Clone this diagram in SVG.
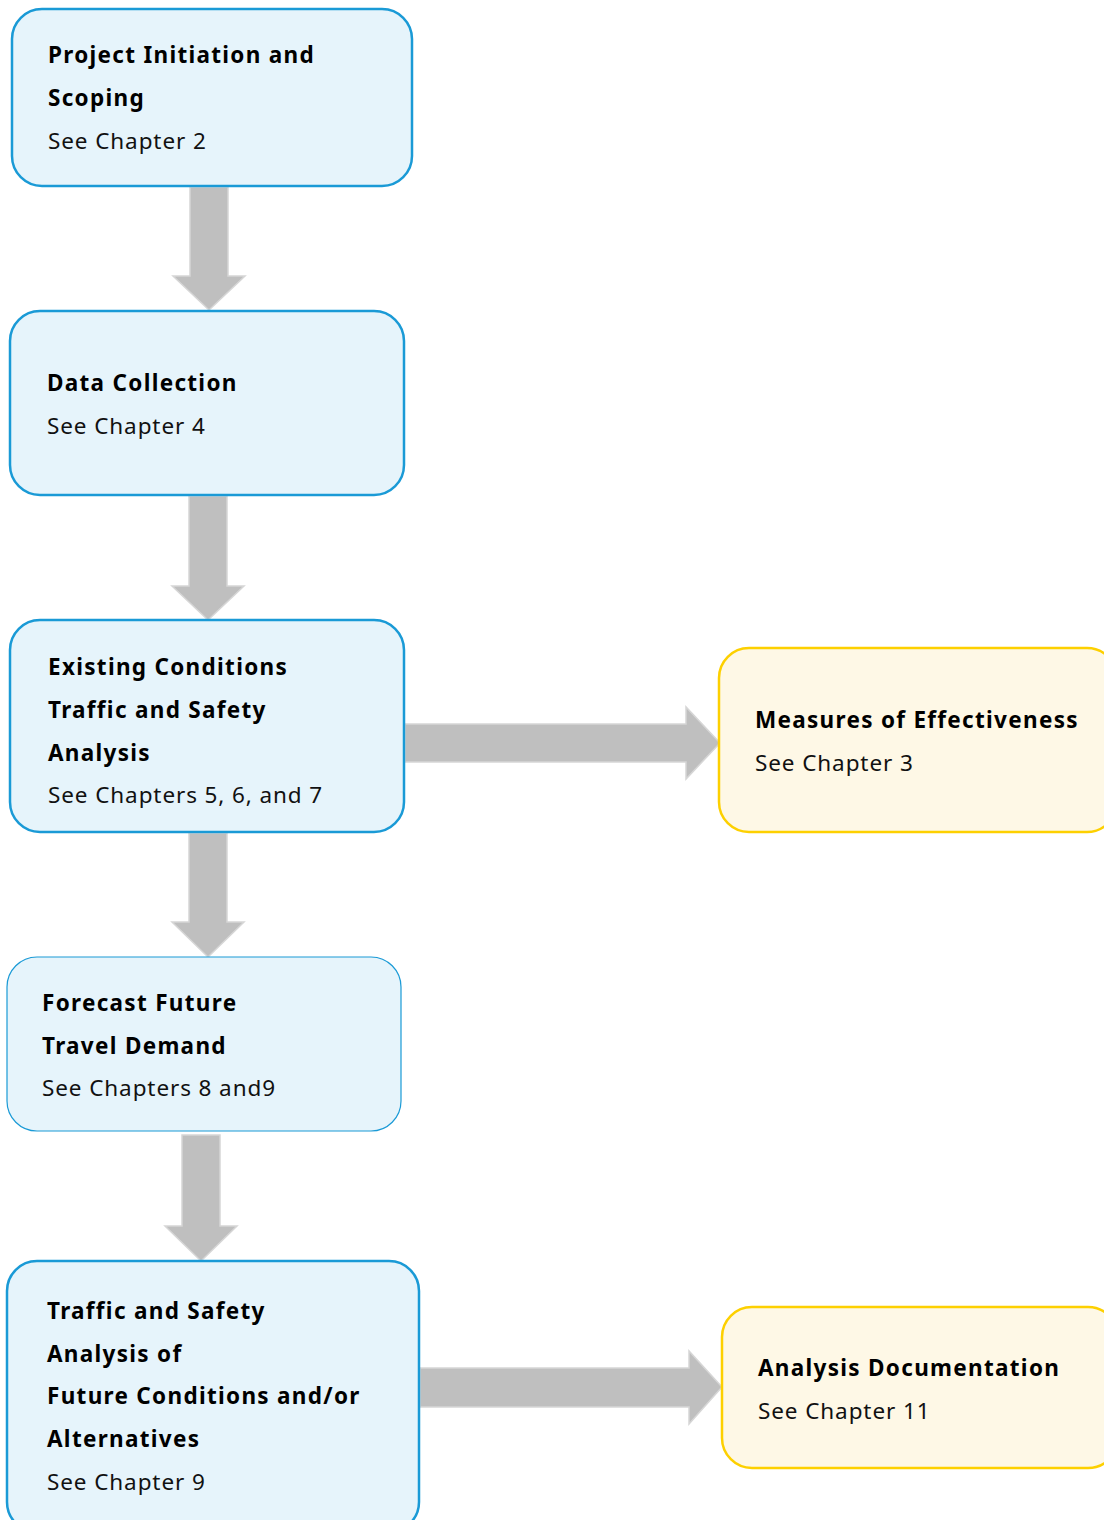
<svg xmlns="http://www.w3.org/2000/svg" width="1104" height="1520" viewBox="0 0 1104 1520">
<style>
.blue{fill:#e6f4fb;stroke:#1a9ad6;stroke-width:2.5}
.blue-thin{fill:#e6f4fb;stroke:#1a9ad6;stroke-width:1.2}
.yellow{fill:#fef8e6;stroke:#fdd000;stroke-width:2.5}
.arrow{fill:#bfbfbf;stroke:#d6d6d6;stroke-width:1.5}
.t{font-family:"Noto Sans","Open Sans",sans-serif;font-size:22.5px;font-weight:700;fill:#000;letter-spacing:1.3px}
.s{font-family:"Noto Sans","Open Sans",sans-serif;font-size:22.5px;font-weight:400;fill:#111;letter-spacing:0.9px}
</style>
<rect width="1104" height="1520" fill="#fff"/>
<g id="connectors">
<path class="arrow" d="M190,187 H228 V276 H245 L209,310 L173,276 H190 Z"/>
<path class="arrow" d="M189,496 H227 V586 H244 L208,620 L172,586 H189 Z"/>
<path class="arrow" d="M189,833 H227 V922 H244 L208,957 L172,922 H189 Z"/>
<path class="arrow" d="M182,1135 H220 V1226 H237 L201,1261 L165,1226 H182 Z"/>
<path class="arrow" d="M405,724 H686 V707 L720,743 L686,779 V762 H405 Z"/>
<path class="arrow" d="M420,1368 H689 V1351 L722,1387 L689,1424 V1407 H420 Z"/>
</g>
<g id="node1">
<rect class="blue" x="12" y="9" width="400" height="177" rx="30"/>
<text class="t" x="48" y="63">Project Initiation and</text>
<text class="t" x="48" y="106">Scoping</text>
<text class="s" x="48" y="149">See Chapter 2</text>
</g>
<g id="node2">
<rect class="blue" x="10" y="311" width="394" height="184" rx="30"/>
<text class="t" x="47" y="391">Data Collection</text>
<text class="s" x="47" y="434">See Chapter 4</text>
</g>
<g id="node3">
<rect class="blue" x="10" y="620" width="394" height="212" rx="30"/>
<text class="t" x="48" y="675">Existing Conditions</text>
<text class="t" x="48" y="718">Traffic and Safety</text>
<text class="t" x="48" y="761">Analysis</text>
<text class="s" x="48" y="803">See Chapters 5, 6, and 7</text>
</g>
<g id="node4">
<rect class="blue-thin" x="7" y="957" width="394" height="174" rx="30"/>
<text class="t" x="42" y="1011">Forecast Future</text>
<text class="t" x="42" y="1054">Travel Demand</text>
<text class="s" x="42" y="1096">See Chapters 8 and9</text>
</g>
<g id="node5">
<rect class="blue" x="7" y="1261" width="412" height="271" rx="30"/>
<text class="t" x="47" y="1319">Traffic and Safety</text>
<text class="t" x="47" y="1362">Analysis of</text>
<text class="t" x="47" y="1404">Future Conditions and/or</text>
<text class="t" x="47" y="1447">Alternatives</text>
<text class="s" x="47" y="1490">See Chapter 9</text>
</g>
<g id="node6">
<rect class="yellow" x="719" y="648" width="398" height="184" rx="30"/>
<text class="t" x="755" y="728">Measures of Effectiveness</text>
<text class="s" x="755" y="771">See Chapter 3</text>
</g>
<g id="node7">
<rect class="yellow" x="722" y="1307" width="396" height="161" rx="30"/>
<text class="t" x="758" y="1376">Analysis Documentation</text>
<text class="s" x="758" y="1419">See Chapter 11</text>
</g>
</svg>
